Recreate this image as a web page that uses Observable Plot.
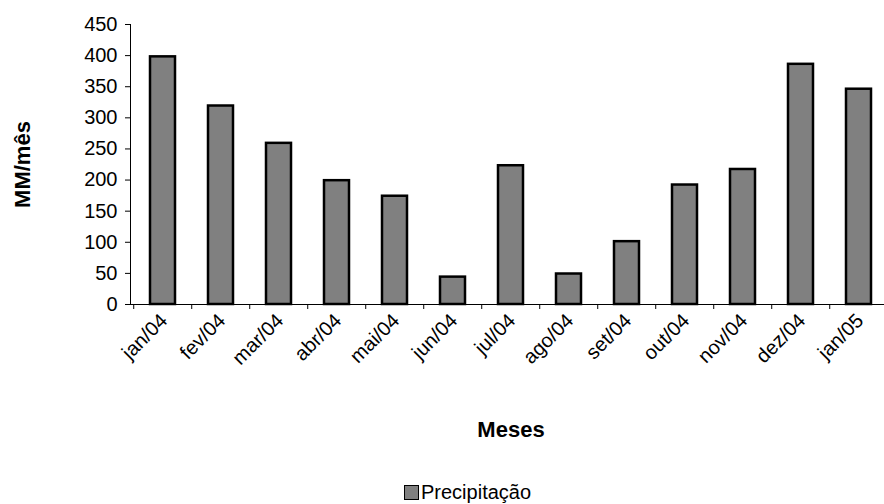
<!DOCTYPE html>
<html>
<head>
<meta charset="utf-8">
<script src="https://cdn.jsdelivr.net/npm/d3@7"></script>
<script src="https://cdn.jsdelivr.net/npm/@observablehq/plot@0.6"></script>
<style>
  html, body { margin: 0; padding: 0; background: #fff; overflow: hidden; }
  body { width: 884px; height: 504px; font-family: "Liberation Sans", Arial, sans-serif; }
  #chart svg { display: block; overflow: hidden; }
  #chart g[aria-label="x-axis label"] text,
  #chart g[aria-label="y-axis label"] text { font-weight: bold; font-size: 22px; }
  #legend { position: absolute; left: 404px; top: 481px; display: flex; align-items: center; font-size: 20px; color: #000; }
  #legend .sw { width: 13px; height: 13px; background: #808080; border: 1.5px solid #000; margin-right: 2px; }
</style>
</head>
<body>
<div id="chart"></div>
<div id="legend"><div class="sw"></div><span id="legendText"></span></div>
<script>
const months = ["jan/04","fev/04","mar/04","abr/04","mai/04","jun/04","jul/04","ago/04","set/04","out/04","nov/04","dez/04","jan/05"];
const precipitacao = [398, 319, 259, 199, 174, 44, 223, 49, 101, 192, 217, 386, 346];
const yTicks = [0, 50, 100, 150, 200, 250, 300, 350, 400, 450];
const seriesName = "Precipitação";
const xTitle = "Meses";
const yTitle = "MM/mês";

const data = months.map((m, i) => ({month: m, value: precipitacao[i]}));

const W = 884, H = 470;
const mLeft = 130, mRight = -7, mTop = 24, mBottom = H - 304;
const step = (W - mLeft - mRight) / months.length;

const chart = Plot.plot({
  width: W,
  height: H,
  marginLeft: mLeft,
  marginRight: mRight,
  marginTop: mTop,
  marginBottom: mBottom,
  style: {fontFamily: "'Liberation Sans', Arial, sans-serif", fontSize: "20px", color: "#000", background: "#fff"},
  x: {domain: months, paddingInner: 0.57, paddingOuter: 0.285},
  y: {domain: [0, 450]},
  marks: [
    Plot.barY(data, {x: "month", y: "value", fill: "#808080", stroke: "#000", strokeWidth: 2.5}),
    Plot.frame({anchor: "left", stroke: "#000"}),
    Plot.frame({anchor: "bottom", stroke: "#000"}),
    Plot.axisY({ticks: yTicks, tickSize: 5, tickPadding: 8, fontSize: 20, label: null}),
    Plot.axisY({ticks: [], label: yTitle, labelAnchor: "center", labelArrow: "none", labelOffset: 116}),
    Plot.axisX({text: null, tickSize: 5, dx: -step / 2, label: null}),
    Plot.axisX({tickSize: 0, tickRotate: -45, fontSize: 20, dx: 1, dy: 1, label: null}),
    Plot.axisX({ticks: [], label: xTitle, labelAnchor: "center", labelOffset: 132})
  ]
});
document.getElementById("chart").appendChild(chart);
document.getElementById("legendText").textContent = seriesName;
</script>
</body>
</html>
